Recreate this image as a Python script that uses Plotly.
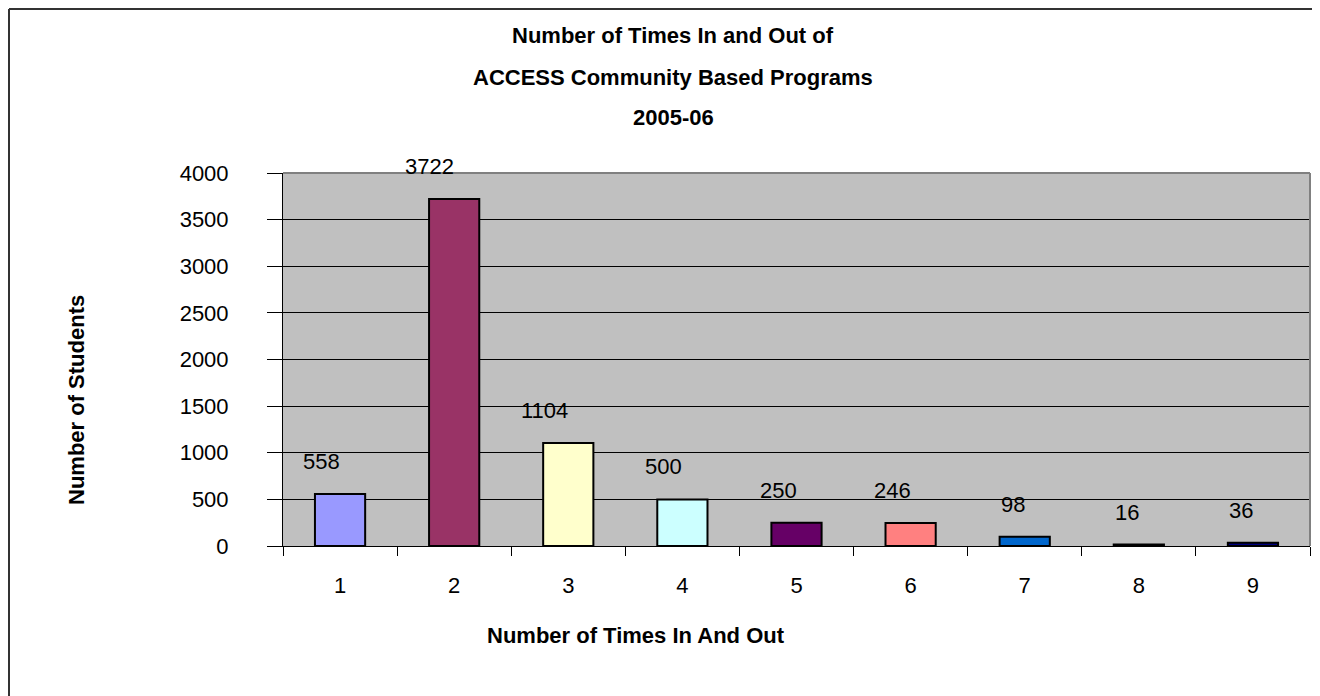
import plotly.graph_objects as go

categories = ["1", "2", "3", "4", "5", "6", "7", "8", "9"]
students = [558, 3722, 1104, 500, 250, 246, 98, 16, 36]
bar_colors = ["#9999FF", "#993366", "#FFFFCC", "#CCFFFF", "#660066",
              "#FF8080", "#0066CC", "#CCCCFF", "#000080"]
title_lines = ["Number of Times In and Out of",
               "ACCESS Community Based Programs",
               "2005-06"]
x_title = "Number of Times In And Out"
y_title = "Number of Students"
y_ticks = [0, 500, 1000, 1500, 2000, 2500, 3000, 3500, 4000]

FONT = "Liberation Sans, Arial, sans-serif"
W, H = 1320, 696
OFF = 8  # page body margin offset
L, R, T, B = 283 - OFF, 1310 - OFF, 173 - OFF, 546 - OFF


def px(x):
    return (x - OFF - L) / (R - L)


def py(y):
    return (B - (y - OFF)) / (B - T)


fig = go.Figure()
fig.add_trace(go.Bar(
    x=categories, y=students,
    marker=dict(color=bar_colors, line=dict(color="black", width=2)),
    hoverinfo="skip",
))

for i, v in enumerate(students):
    fig.add_annotation(x=i, y=v, xref="x", yref="y", text=str(v),
                       showarrow=False, xanchor="right", yanchor="bottom",
                       yshift=18, xshift=2,
                       font=dict(family=FONT, size=22, color="black"))

for line, yc in zip(title_lines, [35, 77, 118]):
    fig.add_annotation(x=px(673), y=py(yc), xref="paper", yref="paper",
                       text="<b>" + line + "</b>", showarrow=False,
                       xanchor="center", yanchor="middle",
                       font=dict(family=FONT, size=22, color="black"))

fig.add_annotation(x=px(636), y=py(635), xref="paper", yref="paper",
                   text="<b>" + x_title + "</b>", showarrow=False,
                   xanchor="center", yanchor="middle",
                   font=dict(family=FONT, size=22, color="black"))
fig.add_annotation(x=px(76), y=py(400), xref="paper", yref="paper",
                   text="<b>" + y_title + "</b>", showarrow=False, textangle=-90,
                   xanchor="center", yanchor="middle",
                   font=dict(family=FONT, size=22, color="black"))

# outer chart border (only top and left edges are visible in the frame)
fig.add_shape(type="line", xref="paper", yref="paper",
              x0=px(9), x1=px(1400), y0=py(9), y1=py(9),
              line=dict(color="#333333", width=2), layer="above")
fig.add_shape(type="line", xref="paper", yref="paper",
              x0=px(9), x1=px(9), y0=py(9), y1=py(760),
              line=dict(color="#333333", width=2), layer="above")

fig.update_layout(
    width=W, height=H,
    margin=dict(l=L, r=W - R, t=T, b=H - B, pad=0, autoexpand=False),
    paper_bgcolor="white", plot_bgcolor="#C0C0C0",
    showlegend=False, bargap=0.56,
    font=dict(family=FONT, size=22, color="black"),
    xaxis=dict(type="category", tickson="boundaries", ticks="outside",
               ticklen=9, tickcolor="black", tickwidth=1,
               showline=True, linecolor="black", linewidth=1,
               showgrid=False, ticklabelstandoff=20,
               tickfont=dict(family=FONT, size=22, color="black")),
    yaxis=dict(range=[0, 4000], tickvals=y_ticks, ticks="outside",
               ticklen=15, tickcolor="black", tickwidth=1,
               showline=True, linecolor="black", linewidth=1,
               showgrid=True, gridcolor="black", gridwidth=1,
               zeroline=False, ticklabelstandoff=34,
               tickfont=dict(family=FONT, size=22, color="black")),
)

# plot-area frame (top/right gray)
fig.add_shape(type="line", xref="paper", yref="paper", x0=0, x1=1, y0=1, y1=1,
              line=dict(color="#808080", width=2))
fig.add_shape(type="line", xref="paper", yref="paper", x0=1, x1=1, y0=0, y1=1,
              line=dict(color="#808080", width=2))

fig.write_html("out.html")
